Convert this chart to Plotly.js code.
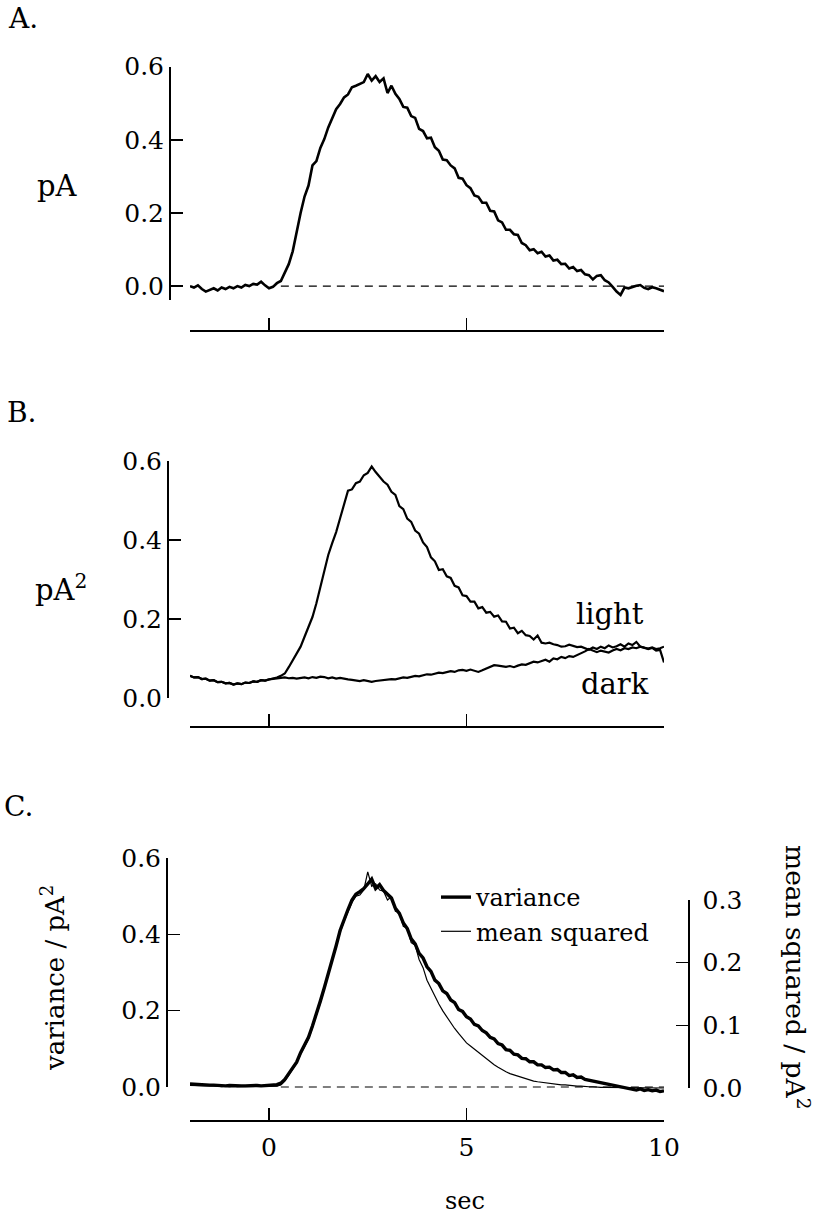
<!DOCTYPE html>
<html><head><meta charset="utf-8">
<script src="https://cdn.plot.ly/plotly-3.0.1.min.js"></script>
<style>html,body{margin:0;padding:0;background:#fff}#chart{width:821px;height:1215px}</style>
</head><body><div id="chart"></div>
<script>
// ---------- data ----------
const timeSec = [-2,-1.9,-1.8,-1.7,-1.6,-1.5,-1.4,-1.3,-1.2,-1.1,-1,-0.9,-0.8,-0.7,-0.6,-0.5,-0.4,-0.3,-0.2,-0.1,
0,0.1,0.2,0.3,0.4,0.5,0.6,0.7,0.8,0.9,1,1.1,1.2,1.3,1.4,1.5,1.6,1.7,1.8,1.9,
2,2.1,2.2,2.3,2.4,2.5,2.6,2.7,2.8,2.9,3,3.1,3.2,3.3,3.4,3.5,3.6,3.7,3.8,3.9,
4,4.1,4.2,4.3,4.4,4.5,4.6,4.7,4.8,4.9,5,5.1,5.2,5.3,5.4,5.5,5.6,5.7,5.8,5.9,
6,6.1,6.2,6.3,6.4,6.5,6.6,6.7,6.8,6.9,7,7.1,7.2,7.3,7.4,7.5,7.6,7.7,7.8,7.9,
8,8.1,8.2,8.3,8.4,8.5,8.6,8.7,8.8,8.9,9,9.1,9.2,9.3,9.4,9.5,9.6,9.7,9.8,9.9,10];

// A. mean current (pA)
const meanCurrentA = [0.000,-0.004,0.002,-0.008,-0.015,-0.010,-0.006,-0.012,-0.004,-0.008,-0.002,-0.006,0.000,-0.004,0.003,0.000,0.006,0.004,0.012,0.002,
-0.006,-0.002,0.008,0.014,0.035,0.060,0.095,0.150,0.200,0.245,
0.275,0.330,0.342,0.378,0.402,0.434,0.460,0.484,0.498,0.516,
0.524,0.544,0.548,0.554,0.558,0.580,0.562,0.574,0.558,0.568,
0.528,0.548,0.526,0.512,0.490,0.488,0.465,0.460,0.430,0.424,
0.404,0.406,0.380,0.370,0.346,0.344,0.330,0.322,0.296,0.294,
0.276,0.268,0.248,0.244,0.228,0.228,0.206,0.204,0.180,0.174,
0.154,0.154,0.142,0.140,0.118,0.112,0.098,0.101,0.090,0.094,
0.081,0.084,0.070,0.072,0.060,0.061,0.048,0.052,0.041,0.044,
0.032,0.030,0.018,0.028,0.030,0.016,0.010,-0.002,-0.015,-0.024,
-0.004,-0.006,-0.002,0.001,0.003,-0.005,-0.008,-0.003,-0.006,-0.010,
-0.014];

// B. variance in light and in dark (pA^2)
const varianceLight = [0.056,0.052,0.053,0.048,0.049,0.044,0.045,0.040,0.041,0.037,0.038,0.034,0.037,0.035,0.039,0.038,0.042,0.041,0.045,0.044,
0.047,0.049,0.052,0.056,0.062,0.078,0.095,0.110,0.130,0.155,
0.180,0.205,0.240,0.280,0.318,0.362,0.392,0.420,0.455,0.492,
0.525,0.528,0.544,0.548,0.564,0.570,0.586,0.572,0.560,0.548,
0.540,0.522,0.514,0.486,0.478,0.454,0.446,0.424,0.416,0.394,
0.382,0.356,0.346,0.324,0.326,0.308,0.304,0.284,0.280,0.260,
0.258,0.244,0.244,0.227,0.230,0.216,0.218,0.206,0.209,0.194,
0.193,0.176,0.178,0.164,0.170,0.159,0.157,0.148,0.158,0.140,
0.138,0.140,0.136,0.134,0.130,0.131,0.135,0.132,0.129,0.130,
0.126,0.122,0.128,0.124,0.130,0.126,0.133,0.128,0.131,0.136,
0.130,0.138,0.134,0.142,0.130,0.128,0.124,0.127,0.120,0.122,
0.090];
const varianceDark = [0.056,0.052,0.053,0.048,0.049,0.044,0.045,0.040,0.041,0.037,0.038,0.034,0.037,0.035,0.039,0.038,0.042,0.041,0.045,0.044,
0.047,0.048,0.050,0.051,0.052,0.050,0.051,0.049,0.050,0.052,
0.050,0.053,0.051,0.054,0.053,0.050,0.052,0.049,0.051,0.048,
0.047,0.046,0.044,0.043,0.045,0.042,0.041,0.043,0.044,0.045,
0.046,0.048,0.047,0.050,0.052,0.051,0.054,0.056,0.055,0.058,
0.060,0.059,0.062,0.064,0.063,0.066,0.068,0.066,0.070,0.071,
0.069,0.072,0.068,0.066,0.070,0.075,0.080,0.083,0.082,0.080,
0.079,0.081,0.078,0.082,0.085,0.084,0.088,0.092,0.090,0.094,
0.097,0.092,0.100,0.098,0.104,0.101,0.106,0.104,0.108,0.112,
0.118,0.124,0.119,0.116,0.120,0.118,0.115,0.120,0.124,0.121,
0.126,0.124,0.128,0.126,0.130,0.127,0.125,0.128,0.124,0.126,
0.130];

// C. variance (left axis, pA^2) and mean squared (right axis, pA^2)
const varianceC = [0.008,0.007,0.007,0.006,0.006,0.005,0.005,0.004,0.005,0.003,0.004,0.003,0.004,0.003,0.003,0.004,0.003,0.004,0.003,0.004,
0.003,0.004,0.006,0.010,0.020,0.035,0.050,0.065,0.090,0.110,
0.130,0.160,0.190,0.225,0.260,0.295,0.335,0.370,0.410,0.440,
0.465,0.490,0.505,0.512,0.520,0.532,0.545,0.520,0.530,0.515,
0.505,0.495,0.468,0.455,0.430,0.415,0.388,0.375,0.350,0.338,
0.315,0.303,0.280,0.271,0.252,0.245,0.228,0.221,0.203,0.198,
0.184,0.178,0.164,0.160,0.148,0.142,0.130,0.126,0.114,0.110,
0.098,0.096,0.086,0.084,0.075,0.074,0.066,0.066,0.058,0.058,
0.051,0.052,0.045,0.046,0.038,0.038,0.030,0.032,0.025,0.026,
0.020,0.018,0.015,0.013,0.012,0.009,0.006,0.004,0.002,0.000,
-0.002,-0.004,-0.006,-0.008,-0.005,-0.009,-0.007,-0.010,-0.008,-0.012,
-0.010];
const meanSquaredC = [0.004,0.004,0.004,0.003,0.004,0.003,0.003,0.003,0.002,0.003,0.002,0.003,0.002,0.002,0.003,0.002,0.002,0.003,0.002,0.002,
0.002,0.002,0.003,0.005,0.011,0.020,0.030,0.040,0.054,0.066,
0.078,0.096,0.115,0.136,0.158,0.180,0.205,0.226,0.248,0.266,
0.282,0.296,0.306,0.308,0.316,0.345,0.322,0.326,0.316,0.314,
0.300,0.305,0.282,0.280,0.258,0.255,0.232,0.228,0.205,0.192,
0.172,0.159,0.146,0.134,0.123,0.113,0.104,0.095,0.087,0.079,
0.072,0.067,0.062,0.056,0.051,0.046,0.041,0.037,0.033,0.029,
0.026,0.023,0.021,0.018,0.016,0.014,0.012,0.011,0.010,0.009,
0.008,0.007,0.007,0.006,0.005,0.005,0.004,0.004,0.003,0.003,
0.002,0.002,0.002,0.001,0.001,0.001,0.001,0.001,0.000,0.000,
0.000,0.000,0.000,0.000,0.000,0.000,0.000,0.000,0.000,0.000,
0.000];

const baselineT = [0.3, 10];
const baselineV = [0, 0];

const xTickVals = [0, 5, 10];
const xTickText = ['0', '5', '10'];
const yTickVals = [0, 0.2, 0.4, 0.6];
const yTickText = ['0.0', '0.2', '0.4', '0.6'];
const rTickVals = [0, 0.1, 0.2, 0.3];
const rTickText = ['0.0', '0.1', '0.2', '0.3'];

// ---------- layout helpers ----------
const W = 821, H = 1215;
const fx = p => p / W;
const fy = p => (H - p) / H;
const FONT = 'DejaVu Serif';
const xDom = [fx(190), fx(664)];

const ax = {
  showline: true, linecolor: '#000', linewidth: 1.6,
  ticks: 'inside', ticklen: 12, tickwidth: 1.6, tickcolor: '#000',
  showgrid: false, zeroline: false, fixedrange: true,
  tickfont: {family: FONT, size: 25, color: '#000'}
};

// hidden data axes for panel C (same scales as the visible axes, a bit taller so nothing is clipped)
const c0 = fy(1087), c6 = fy(858);          // left axis 0.0 and 0.6
const r0 = fy(1088), r3 = fy(900);          // right axis 0.0 and 0.3
const hDom = [fy(1102), fy(845)];
const sL = (c6 - c0) / 0.6, sR = (r3 - r0) / 0.3;
const y5Range = [(hDom[0] - c0) / sL, (hDom[1] - c0) / sL];
const y6Range = [(hDom[0] - r0) / sR, (hDom[1] - r0) / sR];

const blk = '#000';
const traces = [
  {x: timeSec, y: meanCurrentA, xaxis: 'x', yaxis: 'y', mode: 'lines', line: {color: blk, width: 2.6}, showlegend: false},
  {x: baselineT, y: baselineV, xaxis: 'x', yaxis: 'y', mode: 'lines', line: {color: blk, width: 1.1, dash: '8px,6px'}, showlegend: false},

  {x: timeSec, y: varianceLight, xaxis: 'x2', yaxis: 'y2', mode: 'lines', line: {color: blk, width: 2.2}, showlegend: false},
  {x: timeSec, y: varianceDark, xaxis: 'x2', yaxis: 'y2', mode: 'lines', line: {color: blk, width: 2.2}, showlegend: false},

  {x: [], y: [], xaxis: 'x3', yaxis: 'y3', mode: 'lines', showlegend: false},
  {x: [], y: [], xaxis: 'x3', yaxis: 'y4', mode: 'lines', showlegend: false},
  {x: baselineT, y: baselineV, xaxis: 'x3', yaxis: 'y5', mode: 'lines', line: {color: blk, width: 1.1, dash: '8px,6px'}, showlegend: false},
  {x: timeSec, y: varianceC, xaxis: 'x3', yaxis: 'y5', mode: 'lines', name: 'variance', line: {color: blk, width: 3.4}},
  {x: timeSec, y: meanSquaredC, xaxis: 'x3', yaxis: 'y6', mode: 'lines', name: 'mean squared', line: {color: blk, width: 1.2}}
];

const ann = (text, x, y, size, extra) => Object.assign({
  text: text, x: fx(x), y: fy(y), xref: 'paper', yref: 'paper',
  showarrow: false, font: {family: FONT, size: size, color: '#000'},
  xanchor: 'center', yanchor: 'middle'
}, extra || {});

const layout = {
  width: W, height: H, margin: {l: 0, r: 0, t: 0, b: 0},
  paper_bgcolor: '#fff', plot_bgcolor: 'rgba(0,0,0,0)',
  font: {family: FONT, color: '#000'},
  showlegend: true,
  legend: {x: fx(436), y: fy(875), xanchor: 'left', yanchor: 'top', bgcolor: 'rgba(0,0,0,0)',
           font: {family: FONT, size: 24, color: '#000'}, tracegroupgap: 0},
  xaxis:  Object.assign({}, ax, {domain: xDom, range: [-2, 10], anchor: 'free', position: fy(330), tickvals: xTickVals, showticklabels: false}),
  yaxis:  Object.assign({}, ax, {domain: [fy(300), fy(66.7)], range: [-0.038, 0.6], anchor: 'free', position: fx(169), tickvals: yTickVals, ticktext: yTickText}),
  xaxis2: Object.assign({}, ax, {domain: xDom, range: [-2, 10], anchor: 'free', position: fy(726), tickvals: xTickVals, showticklabels: false}),
  yaxis2: Object.assign({}, ax, {domain: [fy(698), fy(461)], range: [0, 0.6], anchor: 'free', position: fx(167), tickvals: yTickVals, ticktext: yTickText}),
  xaxis3: Object.assign({}, ax, {domain: xDom, range: [-2, 10], anchor: 'free', position: fy(1120), tickvals: xTickVals, ticktext: xTickText, ticklabelstandoff: 4}),
  yaxis3: Object.assign({}, ax, {domain: [c0, c6], range: [0, 0.6], anchor: 'free', position: fx(166), tickvals: yTickVals, ticktext: yTickText}),
  yaxis4: Object.assign({}, ax, {domain: [r0, r3], range: [0, 0.3], anchor: 'free', position: fx(688), side: 'right', tickvals: rTickVals, ticktext: rTickText, ticklabelstandoff: 8}),
  yaxis5: {domain: hDom, range: y5Range, anchor: 'x3', visible: false, fixedrange: true},
  yaxis6: {range: y6Range, anchor: 'x3', overlaying: 'y5', side: 'right', visible: false, fixedrange: true},
  annotations: [
    ann('A.', 6, 19, 28, {xanchor: 'left'}),
    ann('B.', 5, 412, 28, {xanchor: 'left'}),
    ann('C.', 2, 806, 28, {xanchor: 'left'}),
    ann('pA', 57, 186, 29),
    ann('pA<sup>2</sup>', 61, 588, 29),
    ann('light', 610, 614, 29),
    ann('dark', 615, 684, 29),
    ann('variance / pA<sup>2</sup>', 53, 978, 26, {textangle: -90}),
    ann('mean squared / pA<sup>2</sup>', 797, 977, 26.5, {textangle: 90}),
    ann('sec', 465, 1201, 24)
  ]
};

Plotly.newPlot('chart', traces, layout, {displayModeBar: false, staticPlot: true});
</script>
</body></html>
